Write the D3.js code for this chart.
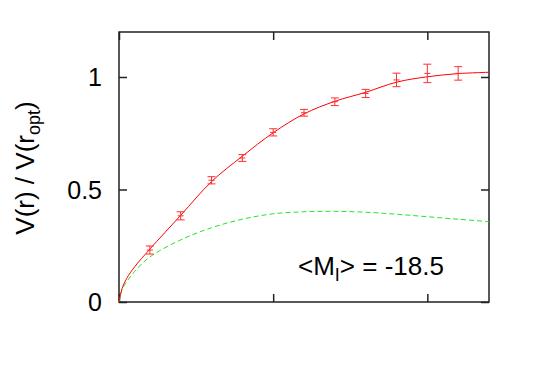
<!DOCTYPE html>
<html>
<head>
<meta charset="utf-8">
<script src="https://cdn.jsdelivr.net/npm/d3@7"></script>
<style>
  body { margin: 0; background: #fff; }
  text { font-family: "Liberation Sans", Arial, sans-serif; }
</style>
</head>
<body>
<div id="chart"></div>
<script>
// Measured points (radius, normalised velocity, error)
var pointX = [0.2, 0.4, 0.6, 0.8, 1.0, 1.2, 1.4, 1.6, 1.8, 2.0, 2.2];
var pointY = [0.231, 0.383, 0.541, 0.640, 0.754, 0.841, 0.890, 0.927, 0.987, 1.016, 1.016];
var pointErr = [0.018, 0.018, 0.016, 0.015, 0.016, 0.015, 0.017, 0.018, 0.030, 0.041, 0.030];

// Fitted curve (red, solid)
var fitX = [0, 0.02, 0.05, 0.1, 0.2, 0.4, 0.6, 0.8, 1.0, 1.2, 1.4, 1.6, 1.8, 2.0, 2.2, 2.4];
var fitY = [0, 0.06, 0.105, 0.155, 0.235, 0.385, 0.535, 0.648, 0.752, 0.836, 0.892, 0.932, 0.977, 1.001, 1.015, 1.021];

// Second component (green, dashed)
var compX = [0, 0.02, 0.05, 0.1, 0.2, 0.4, 0.6, 0.8, 1.0, 1.2, 1.4, 1.6, 1.8, 2.0, 2.2, 2.4];
var compY = [0, 0.055, 0.09, 0.135, 0.200, 0.276, 0.330, 0.368, 0.392, 0.401, 0.403, 0.399, 0.390, 0.379, 0.368, 0.357];

// Tick values
var yTicks = [0, 0.5, 1];
var xTicks = [0, 1, 2];

var svgWidth = 534;
var svgHeight = 382;

var margin = { top: 32, right: 45, bottom: 80, left: 119 };
var width = svgWidth - margin.left - margin.right;
var height = svgHeight - margin.top - margin.bottom;

var svg = d3.select("#chart")
  .append("svg")
  .attr("width", svgWidth)
  .attr("height", svgHeight);

var chartGroup = svg.append("g")
  .attr("transform", `translate(${margin.left}, ${margin.top})`);

var xScale = d3.scaleLinear().domain([0, 2.4]).range([0, width]);
var yScale = d3.scaleLinear().domain([0, 1.2]).range([height, 0]);

// axes with inward ticks, mirrored on the opposite sides
var tickLen = 8;
chartGroup.append("g")
  .attr("transform", `translate(0, ${height})`)
  .call(d3.axisTop(xScale).tickValues(xTicks).tickSize(tickLen).tickFormat(""));
chartGroup.append("g")
  .call(d3.axisBottom(xScale).tickValues(xTicks).tickSize(tickLen).tickFormat(""));
chartGroup.append("g")
  .call(d3.axisRight(yScale).tickValues(yTicks).tickSize(tickLen).tickFormat(""));
chartGroup.append("g")
  .attr("transform", `translate(${width}, 0)`)
  .call(d3.axisLeft(yScale).tickValues(yTicks).tickSize(tickLen).tickFormat(""));

chartGroup.selectAll(".domain").remove();
chartGroup.selectAll(".tick line")
  .attr("stroke", "#222")
  .attr("stroke-width", 1.5);

// frame
chartGroup.append("rect")
  .attr("width", width)
  .attr("height", height)
  .attr("fill", "none")
  .attr("stroke", "#222")
  .attr("stroke-width", 1.5);

// y tick labels
chartGroup.selectAll(".ylab")
  .data(yTicks)
  .enter()
  .append("text")
  .attr("x", -17)
  .attr("y", d => yScale(d))
  .attr("dy", "0.36em")
  .attr("text-anchor", "end")
  .attr("font-size", 25)
  .text(d => d3.format("")(d));

// curves
var line = d3.line()
  .x(d => xScale(d[0]))
  .y(d => yScale(d[1]))
  .curve(d3.curveCatmullRom.alpha(0.5));

chartGroup.append("path")
  .datum(compX.map((x, i) => [x, compY[i]]))
  .attr("d", line)
  .attr("fill", "none")
  .attr("stroke", "#22e622")
  .attr("stroke-width", 1)
  .attr("stroke-dasharray", "5,3");

chartGroup.append("path")
  .datum(fitX.map((x, i) => [x, fitY[i]]))
  .attr("d", line)
  .attr("fill", "none")
  .attr("stroke", "#ff0000")
  .attr("stroke-width", 1);

// error bars
var points = pointX.map((x, i) => ({ x: x, y: pointY[i], e: pointErr[i] }));
var bars = chartGroup.selectAll(".err")
  .data(points)
  .enter()
  .append("g")
  .attr("stroke", "#ff3030")
  .attr("stroke-width", 1);

bars.append("line")
  .attr("x1", d => xScale(d.x))
  .attr("x2", d => xScale(d.x))
  .attr("y1", d => yScale(d.y - d.e))
  .attr("y2", d => yScale(d.y + d.e));
bars.append("line")
  .attr("x1", d => xScale(d.x) - 4)
  .attr("x2", d => xScale(d.x) + 4)
  .attr("y1", d => yScale(d.y - d.e))
  .attr("y2", d => yScale(d.y - d.e));
bars.append("line")
  .attr("x1", d => xScale(d.x) - 4)
  .attr("x2", d => xScale(d.x) + 4)
  .attr("y1", d => yScale(d.y + d.e))
  .attr("y2", d => yScale(d.y + d.e));
bars.append("line")
  .attr("x1", d => xScale(d.x) - 3)
  .attr("x2", d => xScale(d.x) + 3)
  .attr("y1", d => yScale(d.y))
  .attr("y2", d => yScale(d.y));

// annotation
var note = chartGroup.append("text")
  .attr("x", 179)
  .attr("y", 243)
  .attr("font-size", 26);
note.append("tspan").text("<M");
note.append("tspan").attr("font-size", 18).attr("dy", 6).text("I");
note.append("tspan").attr("dy", -6).text("> = -18.5");

// y axis title
var ytitle = svg.append("text")
  .attr("transform", "translate(34, 168) rotate(-90)")
  .attr("text-anchor", "middle")
  .attr("font-size", 26);
ytitle.append("tspan").text("V(r) / V(r");
ytitle.append("tspan").attr("font-size", 18).attr("dy", 6).text("opt");
ytitle.append("tspan").attr("dy", -6).text(")");
</script>
</body>
</html>
